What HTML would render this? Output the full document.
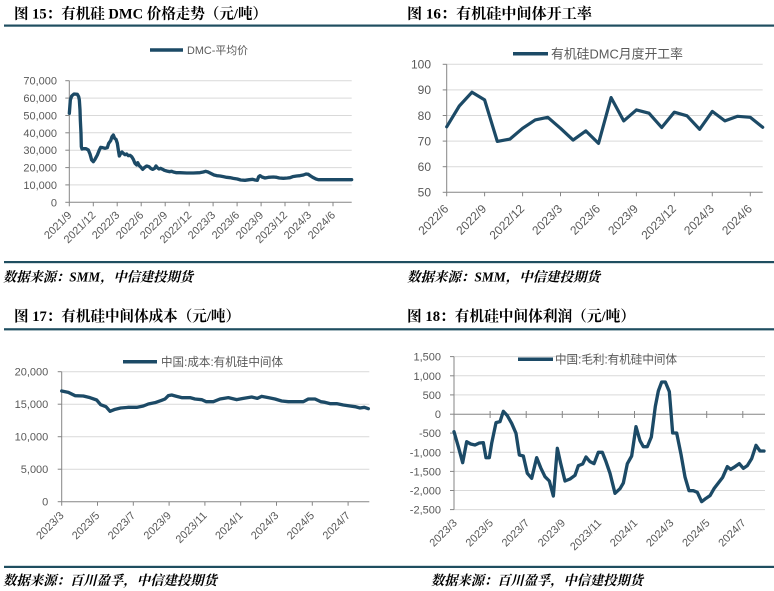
<!DOCTYPE html>
<html><head><meta charset="utf-8">
<style>
html,body{margin:0;padding:0;background:#fff;}
svg{display:block;}
.t{font-family:"Liberation Serif","Noto Serif CJK SC",serif;font-weight:bold;font-size:15px;fill:#000;}
.f{font-family:"Liberation Serif","Noto Serif CJK SC",serif;font-weight:bold;font-style:italic;font-size:13.5px;fill:#000;}
.l{font-family:"Liberation Sans","Noto Sans CJK SC",sans-serif;font-size:11px;fill:#595959;}
.l12{font-family:"Liberation Sans","Noto Sans CJK SC",sans-serif;font-size:12px;fill:#595959;}
.lg{font-family:"Liberation Sans","Noto Sans CJK SC",sans-serif;fill:#595959;}
.g{stroke:#d9d9d9;stroke-width:1;}
.ax{stroke:#868686;stroke-width:1;}
.s{fill:none;stroke:#1c4a66;stroke-linejoin:round;stroke-linecap:round;}
</style></head>
<body>
<svg width="774" height="591" viewBox="0 0 774 591" xmlns="http://www.w3.org/2000/svg">
<!-- rules -->
<rect x="4" y="24.5" width="770" height="2.2" fill="#1f4e60"/>
<rect x="4" y="261" width="770" height="2.2" fill="#1f4e60"/>
<rect x="4" y="328.2" width="770" height="2.2" fill="#1f4e60"/>
<rect x="4" y="565.8" width="770" height="2.2" fill="#1f4e60"/>

<!-- titles -->
<text class="t" x="14" y="18.5" textLength="253" lengthAdjust="spacingAndGlyphs">图 15：有机硅 DMC 价格走势（元/吨）</text>
<text class="t" x="407" y="18.5" textLength="185" lengthAdjust="spacingAndGlyphs">图 16：有机硅中间体开工率</text>
<text class="t" x="14" y="321" textLength="226" lengthAdjust="spacingAndGlyphs">图 17：有机硅中间体成本（元/吨）</text>
<text class="t" x="407" y="321" textLength="228" lengthAdjust="spacingAndGlyphs">图 18：有机硅中间体利润（元/吨）</text>

<!-- footers -->
<text class="f" x="3" y="281.5" textLength="190" lengthAdjust="spacingAndGlyphs">数据来源：SMM，中信建投期货</text>
<text class="f" x="407" y="281.5" textLength="193" lengthAdjust="spacingAndGlyphs">数据来源：SMM，中信建投期货</text>
<text class="f" x="3" y="585" textLength="214" lengthAdjust="spacingAndGlyphs">数据来源：百川盈孚，中信建投期货</text>
<text class="f" x="431" y="585" textLength="212" lengthAdjust="spacingAndGlyphs">数据来源：百川盈孚，中信建投期货</text>

<!-- ============ Chart 15 ============ -->
<g>
<line class="g" x1="69.3" x2="351.7" y1="80.7" y2="80.7"/>
<line class="g" x1="69.3" x2="351.7" y1="98.1" y2="98.1"/>
<line class="g" x1="69.3" x2="351.7" y1="115.5" y2="115.5"/>
<line class="g" x1="69.3" x2="351.7" y1="132.8" y2="132.8"/>
<line class="g" x1="69.3" x2="351.7" y1="150.2" y2="150.2"/>
<line class="g" x1="69.3" x2="351.7" y1="167.6" y2="167.6"/>
<line class="g" x1="69.3" x2="351.7" y1="184.9" y2="184.9"/>
<line class="ax" x1="69.3" x2="69.3" y1="80.7" y2="202.3"/>
<line class="ax" x1="69.3" x2="351.7" y1="202.3" y2="202.3"/>
<g class="ax">
<line x1="65.3" x2="69.3" y1="80.7" y2="80.7"/><line x1="65.3" x2="69.3" y1="98.1" y2="98.1"/><line x1="65.3" x2="69.3" y1="115.5" y2="115.5"/><line x1="65.3" x2="69.3" y1="132.8" y2="132.8"/><line x1="65.3" x2="69.3" y1="150.2" y2="150.2"/><line x1="65.3" x2="69.3" y1="167.6" y2="167.6"/><line x1="65.3" x2="69.3" y1="184.9" y2="184.9"/><line x1="65.3" x2="69.3" y1="202.3" y2="202.3"/>
<line x1="69.3" x2="69.3" y1="202.3" y2="206.3"/><line x1="93.3" x2="93.3" y1="202.3" y2="206.3"/><line x1="117.2" x2="117.2" y1="202.3" y2="206.3"/><line x1="141.2" x2="141.2" y1="202.3" y2="206.3"/><line x1="165.2" x2="165.2" y1="202.3" y2="206.3"/><line x1="189.2" x2="189.2" y1="202.3" y2="206.3"/><line x1="213.1" x2="213.1" y1="202.3" y2="206.3"/><line x1="237.1" x2="237.1" y1="202.3" y2="206.3"/><line x1="261.1" x2="261.1" y1="202.3" y2="206.3"/><line x1="285" x2="285" y1="202.3" y2="206.3"/><line x1="309" x2="309" y1="202.3" y2="206.3"/><line x1="333" x2="333" y1="202.3" y2="206.3"/>
</g>
<g class="l" text-anchor="end">
<text x="57" y="84.7">70,000</text><text x="57" y="102.1">60,000</text><text x="57" y="119.5">50,000</text><text x="57" y="136.8">40,000</text><text x="57" y="154.2">30,000</text><text x="57" y="171.6">20,000</text><text x="57" y="188.9">10,000</text><text x="57" y="206.3">0</text>
<text transform="translate(72.3,215.8) rotate(-45)">2021/9</text>
<text transform="translate(96.3,215.8) rotate(-45)">2021/12</text>
<text transform="translate(120.2,215.8) rotate(-45)">2022/3</text>
<text transform="translate(144.2,215.8) rotate(-45)">2022/6</text>
<text transform="translate(168.2,215.8) rotate(-45)">2022/9</text>
<text transform="translate(192.2,215.8) rotate(-45)">2022/12</text>
<text transform="translate(216.1,215.8) rotate(-45)">2023/3</text>
<text transform="translate(240.1,215.8) rotate(-45)">2023/6</text>
<text transform="translate(264.1,215.8) rotate(-45)">2023/9</text>
<text transform="translate(288,215.8) rotate(-45)">2023/12</text>
<text transform="translate(312,215.8) rotate(-45)">2024/3</text>
<text transform="translate(336,215.8) rotate(-45)">2024/6</text>
</g>
<line x1="150" x2="183" y1="50" y2="50" stroke="#1c4a66" stroke-width="3.5"/>
<text class="lg" x="187" y="54" font-size="11" textLength="61" lengthAdjust="spacingAndGlyphs">DMC-平均价</text>
<g transform="scale(0.333333)">
<polyline class="s" stroke-width="10" points="208,340 211,300 215,288 222,282 232,283 236,290 238,300 240,330 241,360 243,400 244,440 246,447 250,446 258,446 265,450 270,462 275,480 280,485 285,478 292,465 298,450 302,442 308,443 315,445 322,443 326,430 332,422 336,410 340,405 344,415 348,418 352,430 355,450 358,468 362,460 366,456 370,460 375,464 380,462 385,467 390,466 395,470 400,478 405,490 410,495 413,488 418,497 423,502 428,508 433,503 440,498 447,500 452,505 458,508 464,505 468,498 472,503 477,507 482,505 488,508 493,511 500,513 508,515 515,514 520,516 528,518 540,518 560,519 580,519 600,518 610,516 617,514 624,516 630,519 636,522 642,525 650,527 660,528 670,530 680,532 690,533 700,535 712,537 722,540 735,541 748,539 758,538 765,540 772,541 776,530 780,527 786,531 795,534 805,532 820,531 830,532 838,534 850,535 862,534 870,533 878,530 890,528 900,527 910,525 918,522 925,523 932,528 940,533 948,537 955,539 970,539 1000,539 1030,539 1055,539"/>
</g>
</g>

<!-- ============ Chart 16 ============ -->
<g>
<line class="g" x1="446.7" x2="762.7" y1="64.3" y2="64.3"/>
<line class="g" x1="446.7" x2="762.7" y1="89.9" y2="89.9"/>
<line class="g" x1="446.7" x2="762.7" y1="115.5" y2="115.5"/>
<line class="g" x1="446.7" x2="762.7" y1="141.1" y2="141.1"/>
<line class="g" x1="446.7" x2="762.7" y1="166.7" y2="166.7"/>
<line class="ax" x1="446.7" x2="446.7" y1="64.3" y2="192.3"/>
<line class="ax" x1="446.7" x2="762.7" y1="192.3" y2="192.3"/>
<g class="ax">
<line x1="442.7" x2="446.7" y1="64.3" y2="64.3"/><line x1="442.7" x2="446.7" y1="89.9" y2="89.9"/><line x1="442.7" x2="446.7" y1="115.5" y2="115.5"/><line x1="442.7" x2="446.7" y1="141.1" y2="141.1"/><line x1="442.7" x2="446.7" y1="166.7" y2="166.7"/><line x1="442.7" x2="446.7" y1="192.3" y2="192.3"/>
<line x1="446.7" x2="446.7" y1="192.3" y2="196.3"/><line x1="484.6" x2="484.6" y1="192.3" y2="196.3"/><line x1="522.6" x2="522.6" y1="192.3" y2="196.3"/><line x1="560.5" x2="560.5" y1="192.3" y2="196.3"/><line x1="598.5" x2="598.5" y1="192.3" y2="196.3"/><line x1="636.4" x2="636.4" y1="192.3" y2="196.3"/><line x1="674.4" x2="674.4" y1="192.3" y2="196.3"/><line x1="712.3" x2="712.3" y1="192.3" y2="196.3"/><line x1="750.3" x2="750.3" y1="192.3" y2="196.3"/>
</g>
<g class="l12" text-anchor="end">
<text x="431" y="68.6">100</text><text x="431" y="94.2">90</text><text x="431" y="119.8">80</text><text x="431" y="145.4">70</text><text x="431" y="171">60</text><text x="431" y="196.6">50</text>
<text transform="translate(449.2,209.5) rotate(-45)">2022/6</text>
<text transform="translate(487.1,209.5) rotate(-45)">2022/9</text>
<text transform="translate(525.1,209.5) rotate(-45)">2022/12</text>
<text transform="translate(563,209.5) rotate(-45)">2023/3</text>
<text transform="translate(601,209.5) rotate(-45)">2023/6</text>
<text transform="translate(638.9,209.5) rotate(-45)">2023/9</text>
<text transform="translate(676.9,209.5) rotate(-45)">2023/12</text>
<text transform="translate(714.8,209.5) rotate(-45)">2024/3</text>
<text transform="translate(752.8,209.5) rotate(-45)">2024/6</text>
</g>
<line x1="513" x2="548" y1="53.7" y2="53.7" stroke="#1c4a66" stroke-width="3.5"/>
<text class="lg" x="551" y="58.3" font-size="13" textLength="132" lengthAdjust="spacingAndGlyphs">有机硅DMC月度开工率</text>
<polyline class="s" stroke-width="3.2" points="446.7,126.8 459.3,106.0 472,92.2 484.6,99.9 497.3,141.4 509.9,139.1 522.6,128.3 535.2,119.9 547.8,117.3 560.5,128.3 573.1,140.1 585.8,130.9 598.5,143.4 611.1,97.6 623.7,120.9 636.4,109.9 649,113.2 661.7,127.5 674.3,112.2 687,115.8 699.6,129.3 712.3,111.4 724.9,120.9 737.6,116.3 750.2,117.3 762.7,127.3"/>
</g>

<!-- ============ Chart 17 ============ -->
<g>
<line class="g" x1="61.7" x2="369.3" y1="371.7" y2="371.7"/>
<line class="g" x1="61.7" x2="369.3" y1="404.2" y2="404.2"/>
<line class="g" x1="61.7" x2="369.3" y1="436.7" y2="436.7"/>
<line class="g" x1="61.7" x2="369.3" y1="469.2" y2="469.2"/>
<line class="ax" x1="61.7" x2="61.7" y1="371.7" y2="501.7"/>
<line class="ax" x1="61.7" x2="369.3" y1="501.7" y2="501.7"/>
<g class="ax">
<line x1="57.7" x2="61.7" y1="371.7" y2="371.7"/><line x1="57.7" x2="61.7" y1="404.2" y2="404.2"/><line x1="57.7" x2="61.7" y1="436.7" y2="436.7"/><line x1="57.7" x2="61.7" y1="469.2" y2="469.2"/><line x1="57.7" x2="61.7" y1="501.7" y2="501.7"/>
<line x1="61.7" x2="61.7" y1="501.7" y2="505.7"/><line x1="97.5" x2="97.5" y1="501.7" y2="505.7"/><line x1="133.3" x2="133.3" y1="501.7" y2="505.7"/><line x1="169.1" x2="169.1" y1="501.7" y2="505.7"/><line x1="204.9" x2="204.9" y1="501.7" y2="505.7"/><line x1="240.7" x2="240.7" y1="501.7" y2="505.7"/><line x1="276.5" x2="276.5" y1="501.7" y2="505.7"/><line x1="312.3" x2="312.3" y1="501.7" y2="505.7"/><line x1="348.1" x2="348.1" y1="501.7" y2="505.7"/>
</g>
<g class="l" text-anchor="end">
<text x="48.3" y="375.7">20,000</text><text x="48.3" y="408.2">15,000</text><text x="48.3" y="440.7">10,000</text><text x="48.3" y="473.2">5,000</text><text x="48.3" y="505.7">0</text>
<text transform="translate(64.4,516.2) rotate(-45)">2023/3</text>
<text transform="translate(100.2,516.2) rotate(-45)">2023/5</text>
<text transform="translate(136,516.2) rotate(-45)">2023/7</text>
<text transform="translate(171.8,516.2) rotate(-45)">2023/9</text>
<text transform="translate(207.6,516.2) rotate(-45)">2023/11</text>
<text transform="translate(243.4,516.2) rotate(-45)">2024/1</text>
<text transform="translate(279.2,516.2) rotate(-45)">2024/3</text>
<text transform="translate(315,516.2) rotate(-45)">2024/5</text>
<text transform="translate(350.8,516.2) rotate(-45)">2024/7</text>
</g>
<line x1="123" x2="157" y1="361.7" y2="361.7" stroke="#1c4a66" stroke-width="3.5"/>
<text class="lg" x="161" y="366" font-size="12" textLength="122" lengthAdjust="spacingAndGlyphs">中国:成本:有机硅中间体</text>
<g transform="translate(0,295) scale(0.333333)">
<polyline class="s" stroke-width="10" points="185,288 205,292 225,302 250,303 270,308 290,315 302,329 318,335 330,349 345,343 362,339 385,337 410,337 430,333 445,327 465,323 485,316 495,312 505,302 515,300 530,304 545,308 570,308 585,312 605,314 618,320 640,320 660,312 685,308 710,314 730,310 755,306 772,310 785,304 805,308 825,312 845,318 865,320 910,320 925,312 945,312 962,320 975,322 990,326 1010,326 1030,330 1050,333 1065,335 1080,339 1093,337 1105,341"/>
</g>
</g>

<!-- ============ Chart 18 ============ -->
<g>
<line class="g" x1="454" x2="765" y1="356.6" y2="356.6"/>
<line class="g" x1="454" x2="765" y1="375.8" y2="375.8"/>
<line class="g" x1="454" x2="765" y1="394.9" y2="394.9"/>
<line class="g" x1="454" x2="765" y1="433.1" y2="433.1"/>
<line class="g" x1="454" x2="765" y1="452.3" y2="452.3"/>
<line class="g" x1="454" x2="765" y1="471.4" y2="471.4"/>
<line class="g" x1="454" x2="765" y1="490.5" y2="490.5"/>
<line class="g" x1="454" x2="765" y1="509.6" y2="509.6"/>
<line class="ax" x1="454" x2="765" y1="414.2" y2="414.2"/>
<line class="ax" x1="454" x2="454" y1="356.6" y2="509.6"/>
<g class="ax">
<line x1="450" x2="454" y1="356.6" y2="356.6"/><line x1="450" x2="454" y1="375.8" y2="375.8"/><line x1="450" x2="454" y1="394.9" y2="394.9"/><line x1="450" x2="454" y1="414.2" y2="414.2"/><line x1="450" x2="454" y1="433.1" y2="433.1"/><line x1="450" x2="454" y1="452.3" y2="452.3"/><line x1="450" x2="454" y1="471.4" y2="471.4"/><line x1="450" x2="454" y1="490.5" y2="490.5"/><line x1="450" x2="454" y1="509.6" y2="509.6"/>
<line x1="490.1" x2="490.1" y1="411" y2="418"/><line x1="526.2" x2="526.2" y1="411" y2="418"/><line x1="562.3" x2="562.3" y1="411" y2="418"/><line x1="598.4" x2="598.4" y1="411" y2="418"/><line x1="634.5" x2="634.5" y1="411" y2="418"/><line x1="670.6" x2="670.6" y1="411" y2="418"/><line x1="706.7" x2="706.7" y1="411" y2="418"/><line x1="742.8" x2="742.8" y1="411" y2="418"/>
</g>
<g class="l" text-anchor="end">
<text x="441" y="360.6">1,500</text><text x="441" y="379.8">1,000</text><text x="441" y="398.9">500</text><text x="441" y="418.2">0</text><text x="441" y="437.1">-500</text><text x="441" y="456.3">-1,000</text><text x="441" y="475.4">-1,500</text><text x="441" y="494.5">-2,000</text><text x="441" y="513.6">-2,500</text>
<text transform="translate(457.7,523.5) rotate(-45)">2023/3</text>
<text transform="translate(493.8,523.5) rotate(-45)">2023/5</text>
<text transform="translate(529.9,523.5) rotate(-45)">2023/7</text>
<text transform="translate(566,523.5) rotate(-45)">2023/9</text>
<text transform="translate(602.1,523.5) rotate(-45)">2023/11</text>
<text transform="translate(638.2,523.5) rotate(-45)">2024/1</text>
<text transform="translate(674.3,523.5) rotate(-45)">2024/3</text>
<text transform="translate(710.4,523.5) rotate(-45)">2024/5</text>
<text transform="translate(746.5,523.5) rotate(-45)">2024/7</text>
</g>
<line x1="518" x2="553" y1="359.3" y2="359.3" stroke="#1c4a66" stroke-width="3.5"/>
<text class="lg" x="555" y="363.6" font-size="12" textLength="122" lengthAdjust="spacingAndGlyphs">中国:毛利:有机硅中间体</text>
<g transform="translate(390,295) scale(0.333333)">
<polyline class="s" stroke-width="10" points="192,410 205,455 218,503 230,440 242,447 255,450 268,444 280,443 288,488 298,488 305,445 318,383 330,380 340,349 352,362 365,385 378,415 388,480 400,483 412,535 425,550 440,488 452,518 465,545 478,558 490,603 502,460 512,505 525,558 540,552 555,541 565,512 578,507 588,486 600,500 612,506 625,472 637,472 648,500 660,535 675,595 690,581 700,564 712,506 725,483 738,395 750,437 760,455 772,455 784,426 796,334 805,288 815,261 826,261 838,290 848,414 860,414 873,478 885,546 897,587 910,587 922,592 935,620 948,610 960,602 972,581 985,564 998,547 1012,515 1022,523 1035,515 1048,506 1060,520 1072,512 1085,491 1098,451 1110,468 1122,468"/>
</g>
</g>
</svg>
</body></html>
